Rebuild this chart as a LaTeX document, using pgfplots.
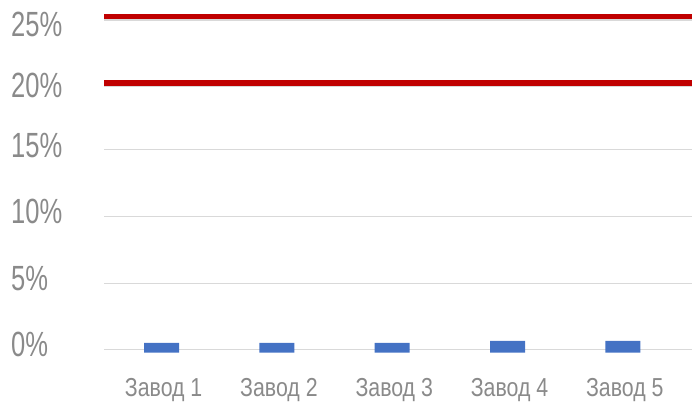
\documentclass[border=0pt]{standalone}
\usepackage{fontspec}
\setmainfont{Liberation Sans}
\newfontfamily\yfont[FakeStretch=0.73]{Liberation Sans}
\newfontfamily\xfont[FakeStretch=0.82]{Liberation Sans}
\usepackage{pgfplots}
\pgfplotsset{compat=1.18}
\definecolor{txt}{RGB}{138,138,138}
\definecolor{gridc}{RGB}{217,217,217}
\definecolor{barblue}{RGB}{68,114,196}
\definecolor{redl}{RGB}{192,0,0}
\begin{document}
\begin{tikzpicture}
\path[use as bounding box] (-104pt,-45.3pt) rectangle (588pt,356.65pt);
\begin{axis}[
 scale only axis, width=588pt, height=353.7pt,
 xmin=-0.5, xmax=4.6, ymin=-0.5, ymax=26,
 axis line style={draw=none}, major tick length=0pt,
 ymajorgrids, grid style={gridc, line width=1pt},
 ytick={0,5,10,15,20,25},
 yticklabels={0\%,5\%,10\%,\raisebox{-1pt}{15\%},\raisebox{-7pt}{20\%},\raisebox{-13pt}{25\%}},
 yticklabel style={font=\yfont\fontsize{35}{40}\selectfont, text=txt, anchor=base west, inner sep=0pt, xshift=-93pt, yshift=-7pt},
 xtick={0,1,2,3,4},
 xticklabels={Завод 1,Завод 2,Завод 3,Завод 4,Завод 5},
 xticklabel style={font=\xfont\fontsize{26}{30}\selectfont, text=txt, anchor=base, inner sep=0pt, yshift=-40.3pt, xshift=2pt},
]
\addplot[ybar, bar width=35pt, bar shift=0pt, fill=barblue, draw=none] coordinates {(0,0.53) (1,0.53) (2,0.53) (3,0.68) (4,0.68)};
\addplot[ybar, bar width=35pt, bar shift=0pt, fill=barblue, draw=none] coordinates {(0,-0.2) (1,-0.2) (2,-0.2) (3,-0.2) (4,-0.2)};
\addplot[black!15, line width=6pt, yshift=-1.3pt] coordinates {(-0.5,25) (4.6,25)};
\addplot[black!15, line width=6pt, yshift=-1.3pt] coordinates {(-0.5,20) (4.6,20)};
\addplot[redl, line width=5.5pt] coordinates {(-0.5,25) (4.6,25)};
\addplot[redl, line width=5.5pt] coordinates {(-0.5,20) (4.6,20)};
\end{axis}
\end{tikzpicture}
\end{document}
